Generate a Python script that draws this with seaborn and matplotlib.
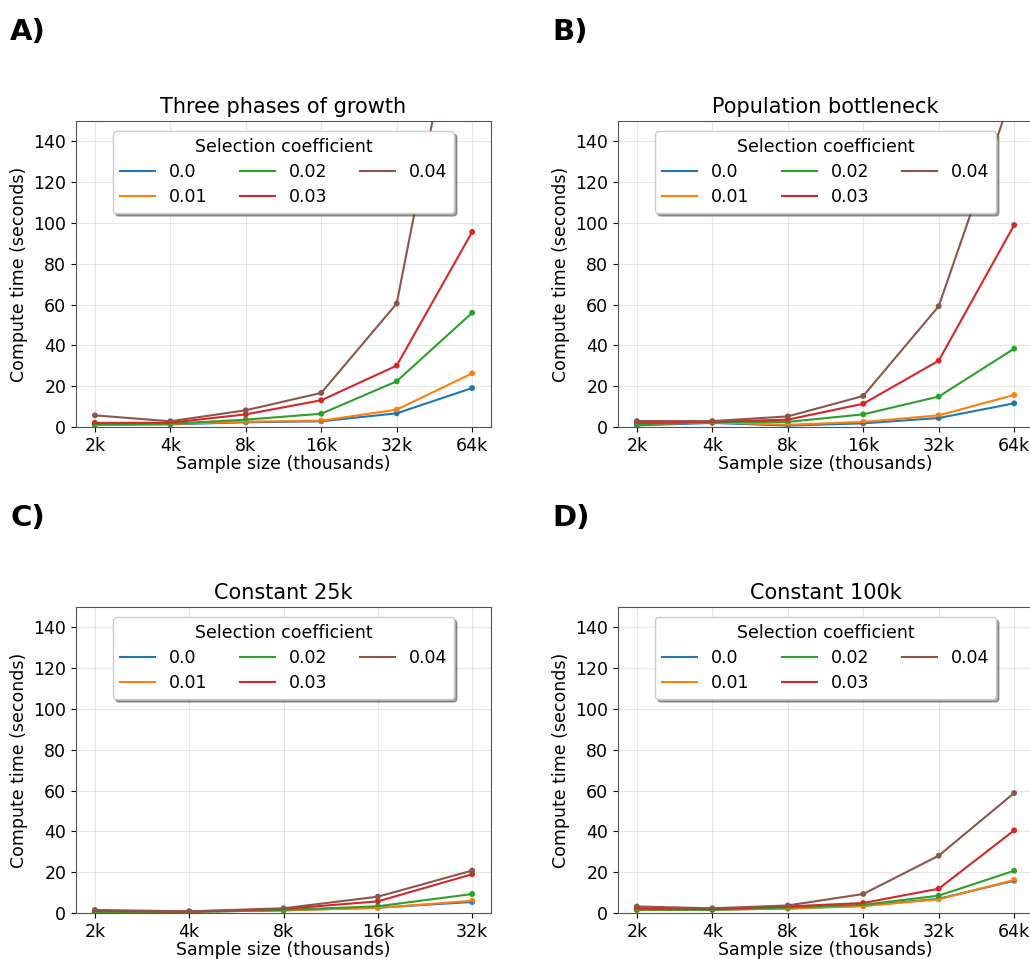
import numpy as np
import pandas as pd
import matplotlib
matplotlib.use("Agg")
import matplotlib.pyplot as plt
import seaborn as sns

# Sample sizes (thousands)
sizes_full = [2, 4, 8, 16, 32, 64]
sizes_short = [2, 4, 8, 16, 32]
size_labels_full = ["2k", "4k", "8k", "16k", "32k", "64k"]
size_labels_short = ["2k", "4k", "8k", "16k", "32k"]
coefficients = ["0.0", "0.01", "0.02", "0.03", "0.04"]

# Compute time (seconds) per selection coefficient
growth = {
    "0.0":  [1.0, 1.3, 2.3, 2.8, 6.7, 19.1],
    "0.01": [1.1, 1.5, 2.6, 3.1, 8.5, 26.3],
    "0.02": [1.3, 1.6, 3.6, 6.5, 22.4, 56.0],
    "0.03": [2.0, 2.1, 6.2, 13.1, 30.1, 95.6],
    "0.04": [5.7, 2.8, 8.2, 16.7, 60.5, 249.0],
}
bottleneck = {
    "0.0":  [0.8, 2.0, 0.7, 1.8, 4.4, 11.6],
    "0.01": [1.3, 2.3, 1.1, 2.5, 5.7, 15.7],
    "0.02": [1.3, 2.5, 2.5, 6.2, 14.9, 38.4],
    "0.03": [2.1, 2.6, 3.6, 11.4, 32.5, 99.0],
    "0.04": [2.9, 2.9, 5.2, 15.2, 59.2, 166.0],
}
constant_25k = {
    "0.0":  [0.5, 0.6, 1.3, 2.6, 5.4],
    "0.01": [0.5, 0.6, 1.3, 2.5, 6.0],
    "0.02": [0.6, 0.6, 1.5, 3.3, 9.3],
    "0.03": [1.0, 0.7, 2.0, 5.7, 19.0],
    "0.04": [1.5, 0.8, 2.3, 8.0, 20.8],
}
constant_100k = {
    "0.0":  [1.5, 1.6, 2.2, 3.5, 7.0, 15.8],
    "0.01": [1.5, 1.6, 2.2, 3.4, 6.7, 16.2],
    "0.02": [1.6, 1.6, 2.6, 4.0, 8.5, 20.7],
    "0.03": [2.3, 2.0, 3.2, 4.9, 11.9, 40.5],
    "0.04": [3.2, 2.3, 3.7, 9.3, 28.1, 58.8],
}

panels = [
    ("A)", "Three phases of growth", growth, sizes_full, size_labels_full),
    ("B)", "Population bottleneck", bottleneck, sizes_full, size_labels_full),
    ("C)", "Constant 25k", constant_25k, sizes_short, size_labels_short),
    ("D)", "Constant 100k", constant_100k, sizes_full, size_labels_full),
]

palette = ["#1f77b4", "#ff7f0e", "#2ca02c", "#d62728", "#8c564b"]

fig = plt.figure(figsize=(10.30, 9.59), dpi=100)
W, H = 1030, 959
boxes = [(76, 121), (618, 121), (76, 607), (618, 607)]
ax_w, ax_h = 415, 306
label_pos = [(10, 32), (552, 32), (10, 518), (552, 518)]

for (tag, title, table, sizes, labels), (x0, y0), (lx, ly) in zip(panels, boxes, label_pos):
    ax = fig.add_axes([x0 / W, 1 - (y0 + ax_h) / H, ax_w / W, ax_h / H])
    df = pd.DataFrame(
        [(s, c, v) for c in coefficients for s, v in zip(sizes, table[c])],
        columns=["size", "coef", "time"],
    )
    sns.lineplot(data=df, x="size", y="time", hue="coef", hue_order=coefficients,
                 palette=palette, linewidth=1.5, ax=ax)
    sns.scatterplot(data=df, x="size", y="time", hue="coef", hue_order=coefficients,
                    palette=palette, s=18, linewidth=0, legend=False, ax=ax)
    ax.set_xscale("log", base=2)
    ax.set_xticks(sizes)
    ax.set_xticklabels(labels)
    ax.minorticks_off()
    ax.set_ylim(0, 150)
    ax.set_yticks(np.arange(0, 141, 20))
    ax.grid(True, color="#dddddd", linewidth=0.8, alpha=0.7)
    ax.set_axisbelow(True)
    ax.tick_params(labelsize=12.5)
    for sp in ax.spines.values():
        sp.set_color("#555555")
    ax.set_xlabel("Sample size (thousands)", fontsize=12.5, labelpad=0)
    ax.set_ylabel("Compute time (seconds)", fontsize=12.5)
    ax.set_title(title, fontsize=15, pad=6)
    ax.legend(title="Selection coefficient", ncol=3, loc="upper center",
              shadow=True, fontsize=12.5, title_fontsize=12.5,
              labelspacing=0.4, borderaxespad=0.6, columnspacing=1.9)
    fig.text(lx / W, 1 - ly / H, tag, fontsize=21, fontweight="bold",
             ha="left", va="center")

fig.savefig("out.png", dpi=100)
